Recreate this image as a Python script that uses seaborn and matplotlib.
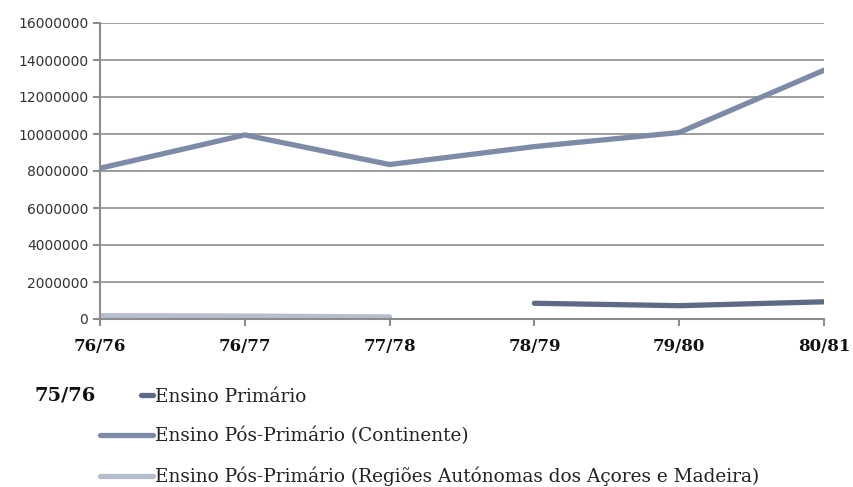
import numpy as np, pandas as pd, matplotlib, matplotlib.pyplot as plt
import seaborn as sns
from matplotlib.lines import Line2D
from matplotlib.legend_handler import HandlerLine2D

YEARS       = ['76/76', '76/77', '77/78', '78/79', '79/80', '80/81']
PRIMARIO    = [np.nan, np.nan, np.nan, 850000, 720000, 930000]
CONTINENTE  = [8150000, 9950000, 8350000, 9320000, 10080000, 13450000]
REGIOES     = [180000, 160000, 110000, np.nan, np.nan, np.nan]
SERIES      = ['Ensino Primário', 'Ensino Pós-Primário (Continente)',
               'Ensino Pós-Primário (Regiões Autónomas dos Açores e Madeira)']
COLORS      = ['#5f6b86', '#7e8ba7', '#b6bece']
YTICKS      = list(range(0, 16000001, 2000000))

rows = []
for name, vals in [(SERIES[1], CONTINENTE), (SERIES[0], PRIMARIO), (SERIES[2], REGIOES)]:
    for yr, v in zip(YEARS, vals):
        if not np.isnan(v):
            rows.append({'ano': yr, 'valor': v, 'serie': name})
df = pd.DataFrame(rows)

sns.set_style('white')
fig = plt.figure(figsize=(8.54, 4.87), dpi=100)
ax = fig.add_axes([100/854, 1 - 319/487, 724/854, 296/487])

sns.lineplot(data=df, x='ano', y='valor', hue='serie', hue_order=SERIES,
             palette=dict(zip(SERIES, COLORS)), ax=ax, lw=3.8, sort=False,
             legend=False, solid_capstyle='round')

ax.set_xlim(0, 5); ax.set_ylim(0, 16000000)
ax.set_yticks(YTICKS)
ax.set_yticklabels([str(v) for v in YTICKS], fontsize=10, family='DejaVu Sans',
                   color='#333333')
ax.set_xticks(range(len(YEARS)))
ax.set_xticklabels(YEARS, fontsize=12, family='DejaVu Serif', fontweight='bold',
                   color='#111111')
ax.set_xlabel(''); ax.set_ylabel('')
ax.grid(axis='y', color='#8c8c8c', lw=1.2)
ax.set_axisbelow(True)
for s in ['top', 'right']:
    ax.spines[s].set_visible(False)
for s in ['left', 'bottom']:
    ax.spines[s].set_color('#8c8c8c'); ax.spines[s].set_linewidth(1.5)
ax.tick_params(axis='both', which='both', length=5, width=1.5, color='#8c8c8c',
               direction='out', left=True, bottom=True)
ax.tick_params(axis='x', pad=9)

class ShortLine(HandlerLine2D):
    def get_xdata(self, legend, xdescent, ydescent, width, height, fontsize):
        x0, x1 = -xdescent + width * 0.78, -xdescent + width
        return np.array([x0, x1]), np.array([(x0 + x1) / 2])

handles = [Line2D([], [], color=c, lw=3.8, solid_capstyle='round') for c in COLORS]
leg = fig.legend(handles, SERIES, loc='upper left', bbox_to_anchor=(100/854, 0.204),
                 frameon=False, handlelength=2.85, handletextpad=0.12,
                 labelspacing=1.16, borderpad=0, borderaxespad=0,
                 prop={'family': 'DejaVu Serif', 'size': 13.3},
                 handler_map={handles[0]: ShortLine()})
for t in leg.get_texts():
    t.set_color('#222222')
fig.text(35/854, 1 - 395/487, '75/76', family='DejaVu Serif', fontweight='bold',
         fontsize=14, va='center', ha='left', color='#111111')

fig.savefig('out.png', dpi=100)
